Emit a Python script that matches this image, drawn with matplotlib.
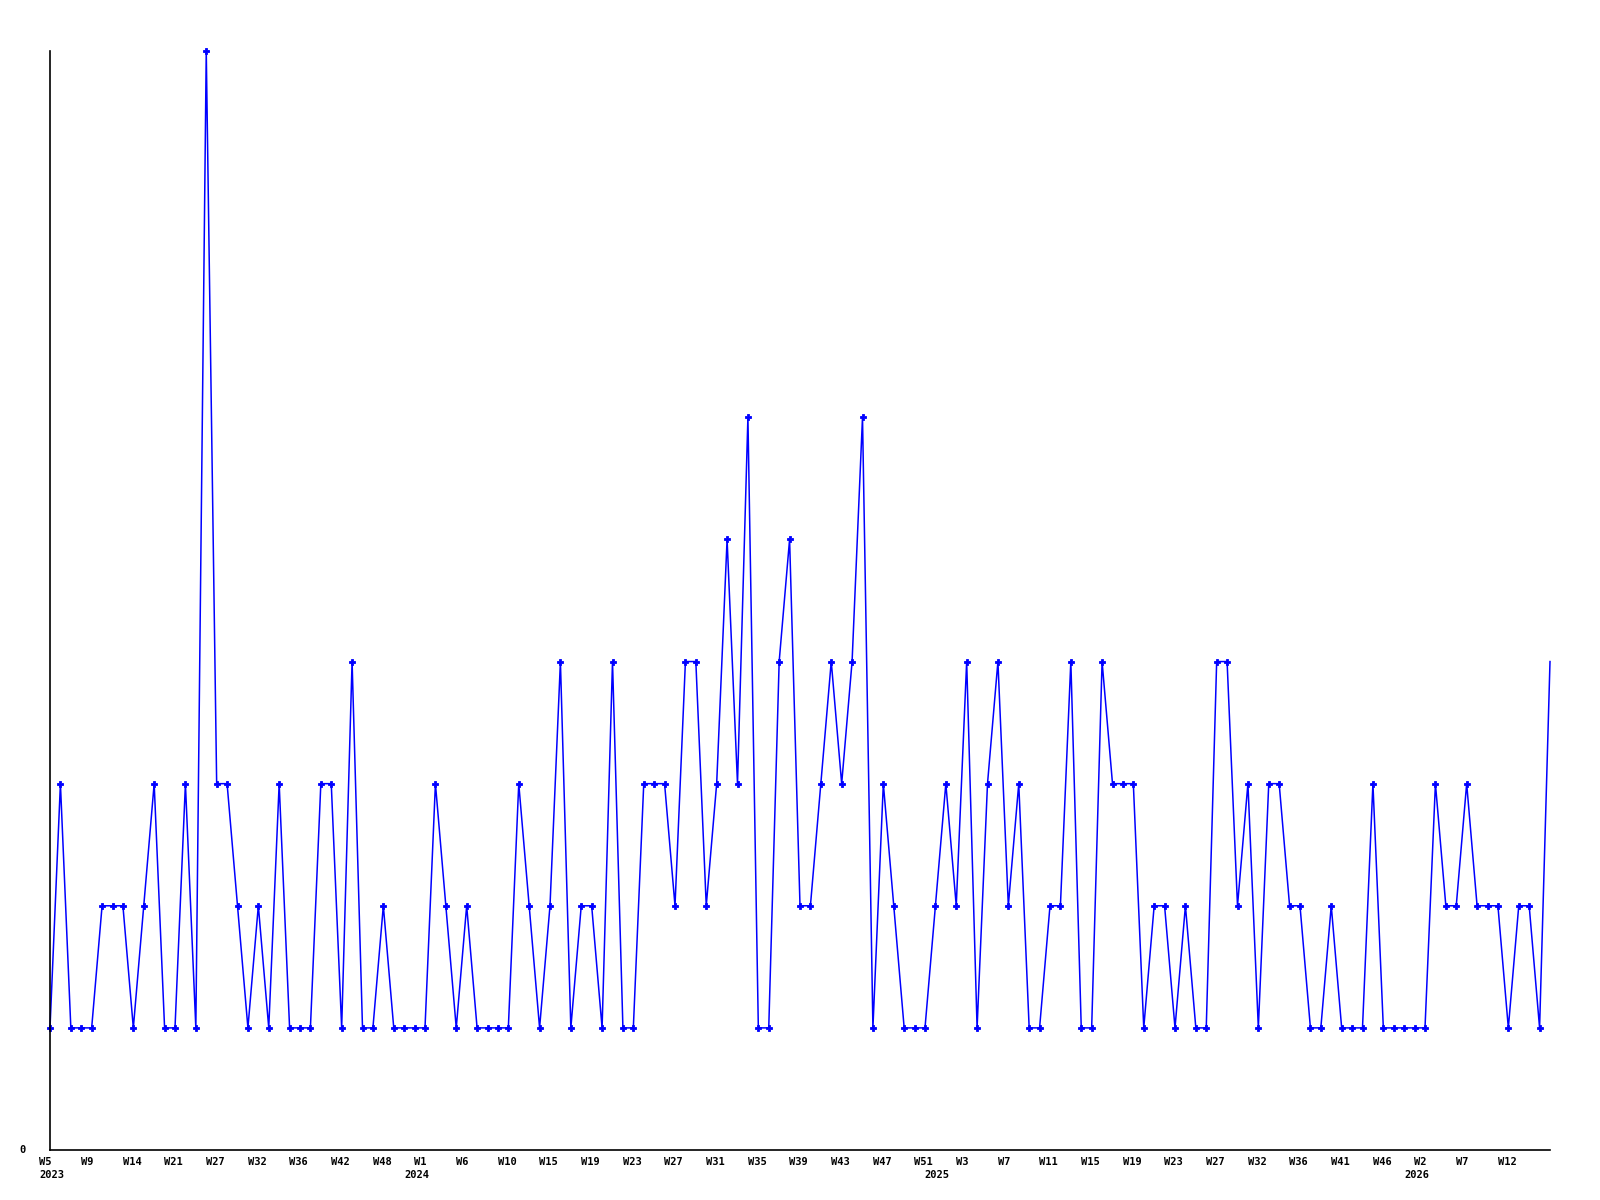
import matplotlib
matplotlib.use("Agg")
import matplotlib.pyplot as plt
import matplotlib.transforms as mtransforms

# weekly counts (weeks without data are skipped, so index != week number)
counts = [1, 3, 1, 1, 1, 2, 2, 2, 1, 2, 3, 1, 1, 3, 1, 9, 3, 3, 2, 1,
          2, 1, 3, 1, 1, 1, 3, 3, 1, 4, 1, 1, 2, 1, 1, 1, 1, 3, 2, 1,
          2, 1, 1, 1, 1, 3, 2, 1, 2, 4, 1, 2, 2, 1, 4, 1, 1, 3, 3, 3,
          2, 4, 4, 2, 3, 5, 3, 6, 1, 1, 4, 5, 2, 2, 3, 4, 3, 4, 6, 1,
          3, 2, 1, 1, 1, 2, 3, 2, 4, 1, 3, 4, 2, 3, 1, 1, 2, 2, 4, 1,
          1, 4, 3, 3, 3, 1, 2, 2, 1, 2, 1, 1, 4, 4, 2, 3, 1, 3, 3, 2,
          2, 1, 1, 2, 1, 1, 1, 3, 1, 1, 1, 1, 1, 3, 2, 2, 3, 2, 2, 2,
          1, 2, 2, 1, 4]

# a label every 4th point
week_labels = ["W5", "W9", "W14", "W21", "W27", "W32", "W36", "W42", "W48",
               "W1", "W6", "W10", "W15", "W19", "W23", "W27", "W31", "W35",
               "W39", "W43", "W47", "W51", "W3", "W7", "W11", "W15", "W19",
               "W23", "W27", "W32", "W36", "W41", "W46", "W2", "W7", "W12"]
label_step = 4

years = ["2023", "2024", "2025", "2026"]
year_index = [0, 35, 85, 131]

fig = plt.figure(figsize=(16, 12), dpi=100)
ax = fig.add_axes([50 / 1600, 1 - 1150 / 1200, 1500 / 1600, 1099 / 1200])

x = list(range(len(counts)))
ax.plot(x, counts, color="#0000ff", lw=1.1, marker="P", ms=4.5, mew=0.6,
        mec="#0000ff", mfc="#0000ff",
        markevery=slice(0, len(counts) - 1), clip_on=False)

ax.set_xlim(0, len(counts) - 1)
ax.set_ylim(0, max(counts))
for s in ["top", "right"]:
    ax.spines[s].set_visible(False)
for s in ["left", "bottom"]:
    ax.spines[s].set_linewidth(1.2)
    ax.spines[s].set_color("black")
ax.set_xticks([])
ax.set_yticks([])

font = dict(family="DejaVu Sans Mono", weight="bold", size=7.5)
trans = ax.get_xaxis_transform()
wk_trans = mtransforms.offset_copy(trans, fig=fig, x=-10.7, y=-7, units="dots")
yr_trans = mtransforms.offset_copy(trans, fig=fig, x=-10.7, y=-20.5, units="dots")

for i, lab in enumerate(week_labels):
    ax.text(i * label_step, 0, lab, transform=wk_trans, ha="left", va="top", **font)
for yr, idx in zip(years, year_index):
    ax.text(idx, 0, yr, transform=yr_trans, ha="left", va="top", **font)

zero_trans = mtransforms.offset_copy(ax.transAxes, fig=fig, x=-27.5, y=0, units="dots")
ax.text(0, 0, "0", transform=zero_trans, ha="center", va="center", **font)

fig.savefig("out.png", dpi=100)
